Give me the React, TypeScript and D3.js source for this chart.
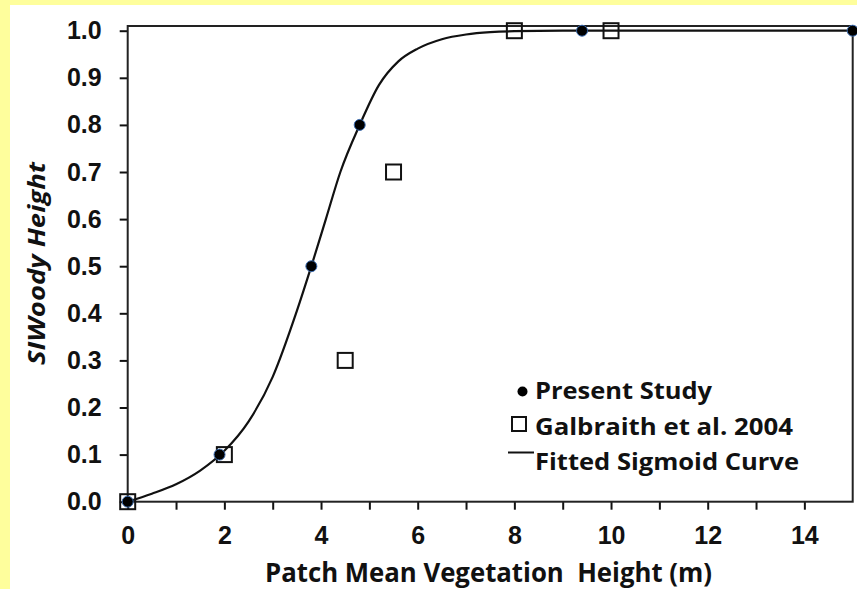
import React, { useRef, useEffect } from "react";
import * as d3 from "d3";

// Present Study points
const presentX = [0, 1.9, 3.8, 4.8, 9.4, 15];
const presentY = [0, 0.1, 0.5, 0.8, 1.0, 1.0];

// Galbraith et al. 2004 points
const galX = [0, 2, 4.5, 5.5, 8, 10];
const galY = [0, 0.1, 0.3, 0.7, 1.0, 1.0];

// fitted sigmoid
const curveX = [0, 0.5, 1.0, 1.5, 2.0, 2.5, 3.0, 3.5, 3.8, 4.1, 4.4, 4.8, 5.2, 5.6, 6.0, 6.5, 7.0, 7.5, 8.0, 9.0, 15];
const curveY = [0, 0.017, 0.037, 0.066, 0.108, 0.17, 0.265, 0.405, 0.5, 0.6, 0.7, 0.8, 0.885, 0.935, 0.962, 0.982, 0.992, 0.997, 0.999, 1.0, 1.0];

const xTicks = d3.range(0, 15, 1);
const yTicks = d3.range(0, 11).map((i) => i / 10);

const legendLabels = ["Present Study", "Galbraith et al. 2004", "Fitted Sigmoid Curve"];
const legendWidths = [177, 258, 264];

const W = 857;
const H = 589;
const CAL = "'Open Sans', Lato, sans-serif";

export default function App() {
  const svgRef = useRef<SVGSVGElement>(null);

  useEffect(() => {
    const svg = d3.select(svgRef.current);
    svg.selectAll("*").remove();

    // yellow page frame
    svg.append("rect").attr("width", W).attr("height", H).attr("fill", "#fefe9c");
    svg.append("rect").attr("x", 10).attr("y", 5).attr("width", W - 10).attr("height", H - 5).attr("fill", "#fff");

    const x = d3.scaleLinear().domain([0, 15]).range([127.7, 852.7]);
    const y = d3.scaleLinear().domain([0, 1.01]).range([501.7, 26]);

    // x axis
    const gx = svg
      .append("g")
      .attr("transform", `translate(0,${y(0)})`)
      .call(
        d3
          .axisBottom(x)
          .tickValues(xTicks)
          .tickSize(8)
          .tickSizeOuter(0)
          .tickPadding(17)
          .tickFormat((d: any) => (d % 2 === 0 ? String(d) : ""))
      );
    gx.select(".domain").remove();
    gx.selectAll("line").attr("stroke", "#111").attr("stroke-width", 2);
    gx.selectAll("text")
      .attr("fill", "#111")
      .style("font-family", "'Liberation Sans', Arial, sans-serif")
      .style("font-weight", "bold")
      .style("font-size", "25px");

    // y axis
    const gy = svg
      .append("g")
      .attr("transform", `translate(${x(0)},0)`)
      .call(
        d3
          .axisLeft(y)
          .tickValues(yTicks)
          .tickSize(8)
          .tickSizeOuter(0)
          .tickPadding(18)
          .tickFormat(d3.format(".1f") as any)
      );
    gy.select(".domain").remove();
    gy.selectAll("line").attr("stroke", "#111").attr("stroke-width", 2);
    gy.selectAll("text")
      .attr("fill", "#111")
      .style("font-family", "'Liberation Sans', Arial, sans-serif")
      .style("font-weight", "bold")
      .style("font-size", "25px");

    // plot frame
    svg
      .append("rect")
      .attr("x", x(0))
      .attr("y", y(1.01))
      .attr("width", x(15) - x(0))
      .attr("height", y(0) - y(1.01))
      .attr("fill", "none")
      .attr("stroke", "#222")
      .attr("stroke-width", 2);

    // axis titles
    svg
      .append("text")
      .attr("x", 265)
      .attr("y", 582)
      .attr("fill", "#111")
      .attr("textLength", 447)
      .attr("lengthAdjust", "spacingAndGlyphs")
      .style("font-family", CAL)
      .style("font-weight", "bold")
      .style("font-size", "26px")
      .style("white-space", "pre")
      .text("Patch Mean Vegetation  Height (m)");

    svg
      .append("text")
      .attr("transform", `translate(45,365) rotate(-90)`)
      .attr("fill", "#111")
      .attr("textLength", 203)
      .attr("lengthAdjust", "spacingAndGlyphs")
      .style("font-family", CAL)
      .style("font-weight", "bold")
      .style("font-style", "italic")
      .style("font-size", "24px")
      .text("SIWoody Height");

    // squares
    const sq = 15;
    svg
      .append("g")
      .selectAll("rect")
      .data(galX.map((v, i) => [v, galY[i]]))
      .join("rect")
      .attr("x", (d) => x(d[0]) - sq / 2)
      .attr("y", (d) => y(d[1]) - sq / 2)
      .attr("width", sq)
      .attr("height", sq)
      .attr("fill", "none")
      .attr("stroke", "#111")
      .attr("stroke-width", 2);

    // fitted curve
    const pts = curveX.map((v, i) => [v, curveY[i]] as [number, number]);
    svg
      .append("path")
      .attr("d", d3.line().x((d) => x(d[0])).y((d) => y(d[1])).curve(d3.curveMonotoneX)(pts))
      .attr("fill", "none")
      .attr("stroke", "#111")
      .attr("stroke-width", 2.2);

    // dots
    svg
      .append("g")
      .selectAll("circle")
      .data(presentX.map((v, i) => [v, presentY[i]]))
      .join("circle")
      .attr("cx", (d) => x(d[0]))
      .attr("cy", (d) => y(d[1]))
      .attr("r", 5.5)
      .attr("fill", "#000")
      .attr("stroke", "#3a6bb0")
      .attr("stroke-width", 1);

    // legend
    const lg = svg.append("g");
    const baselines = [399, 434.5, 470];
    lg.append("circle").attr("cx", 522.5).attr("cy", 391.5).attr("r", 5).attr("fill", "#000");
    lg.append("rect")
      .attr("x", 512)
      .attr("y", 417)
      .attr("width", 14)
      .attr("height", 14)
      .attr("fill", "none")
      .attr("stroke", "#111")
      .attr("stroke-width", 2);
    lg.append("line").attr("x1", 508).attr("x2", 534).attr("y1", 452.5).attr("y2", 452.5).attr("stroke", "#111").attr("stroke-width", 2);
    lg.selectAll("text")
      .data(legendLabels)
      .join("text")
      .attr("x", 535)
      .attr("y", (d, i) => baselines[i])
      .attr("fill", "#111")
      .attr("textLength", (d, i) => legendWidths[i])
      .attr("lengthAdjust", "spacingAndGlyphs")
      .style("font-family", CAL)
      .style("font-weight", "bold")
      .style("font-size", "24px")
      .text((d) => d);
  }, []);

  return (
    <div style={{ position: "fixed", left: 0, top: 0 }}>
      <svg ref={svgRef} width={W} height={H} style={{ display: "block" }} />
    </div>
  );
}
